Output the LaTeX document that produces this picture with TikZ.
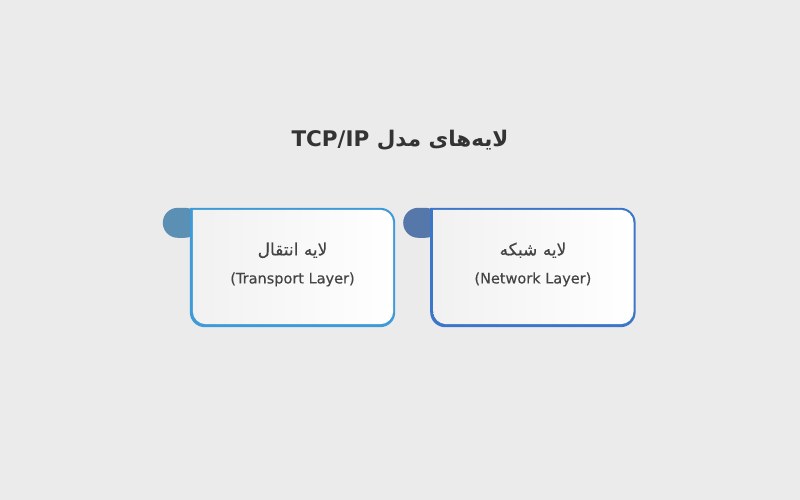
\documentclass[tikz,border=0pt]{standalone}
\usepackage{fontspec}
\setmainfont{DejaVu Sans}[FakeBold=0.4]
\newfontfamily\farsi[Script=Arabic, FakeBold=0.4]{DejaVu Sans}
\newfontfamily\farsibold[Script=Arabic]{DejaVu Sans Bold}
\TeXXeTstate=1
\usetikzlibrary{positioning}

\definecolor{bgcol}{HTML}{EBEBEB}
\definecolor{txtcol}{HTML}{444444}
\definecolor{titlecol}{HTML}{333333}
\definecolor{cardgray}{HTML}{F1F1F1}
\definecolor{transborder}{HTML}{3F9BD7}
\definecolor{transtab}{HTML}{5B8FB3}
\definecolor{netborder}{HTML}{3C76C8}
\definecolor{nettab}{HTML}{5577AA}

% card with a tab on its upper left side, drawn round a named node
\newcommand{\layercard}[3]{%
  \fill[#3, rounded corners=15pt] ([xshift=-27pt]#1.north west) rectangle ([xshift=10pt,yshift=-30pt]#1.north west);
  \fill[#2] (#1.north west) -- ([xshift=-15pt]#1.north east) arc[start angle=90,end angle=0,radius=15]
    -- ([yshift=15pt]#1.south east) arc[start angle=0,end angle=-90,radius=15]
    -- ([xshift=15pt]#1.south west) arc[start angle=-90,end angle=-180,radius=15] -- cycle;
  \shade[left color=cardgray, right color=white] ([xshift=3pt,yshift=-2pt]#1.north west)
    -- ([xshift=-15pt,yshift=-2pt]#1.north east) arc[start angle=90,end angle=0,radius=13]
    -- ([xshift=-2pt,yshift=16pt]#1.south east) arc[start angle=0,end angle=-90,radius=13]
    -- ([xshift=16pt,yshift=3pt]#1.south west) arc[start angle=-90,end angle=-180,radius=13] -- cycle;
}

\begin{document}
\begin{tikzpicture}[x=1pt, y=1pt,
    layer/.style = {minimum width=205pt, minimum height=119pt, inner sep=0pt, align=center,
                    text=txtcol, font=\fontsize{14.5}{28}\selectfont},
    heading/.style = {text=titlecol, font=\bfseries\fontsize{21.5}{24}\selectfont}]
    \fill[bgcol] (0,0) rectangle (800,500);

    \node[heading] (title) at (400,360) {\farsibold\beginR لایه‌های مدل \beginL TCP/IP\endL\endR};

    % the two layers
    \path (292.5,232.5) node[layer] (transport) {};
    \node[layer] (network) [right=35pt of transport] {};
    \layercard{transport}{transborder}{transtab}
    \layercard{network}{netborder}{nettab}

    \node[layer] at ([yshift=3pt]transport.center) {{\farsi\fontsize{17}{20}\selectfont\beginR لایه انتقال\endR}\\(Transport Layer)};
    \node[layer] at ([yshift=3pt]network.center) {{\farsi\fontsize{17}{20}\selectfont\beginR لایه شبکه\endR}\\(Network Layer)};
\end{tikzpicture}
\end{document}
